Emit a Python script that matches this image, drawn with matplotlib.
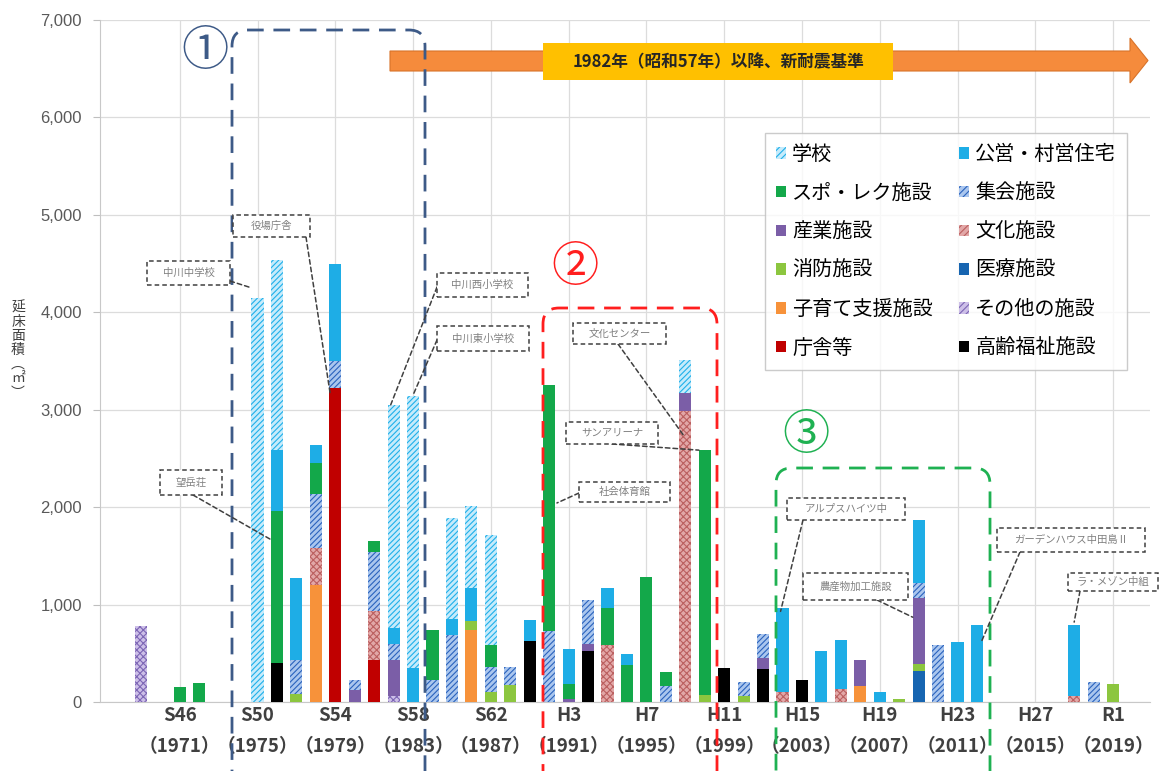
import matplotlib
matplotlib.use("Agg")
import matplotlib.pyplot as plt
from matplotlib.patches import Patch, Rectangle, FancyBboxPatch, Polygon, ConnectionPatch

plt.rcParams['font.family'] = ['Noto Sans CJK JP', 'DejaVu Sans']
plt.rcParams['hatch.linewidth'] = 0.8

years = list(range(1967, 2021))

# floor area by facility type and year of construction (m2), stacked bottom -> top
elderly = {1976: 400, 1989: 630, 1992: 520, 1999: 345, 2001: 340, 2003: 230}
office = {1979: 3220, 1981: 430}
other = {1969: 780, 1982: 60}
childcare = {1978: 1200, 1986: 740, 2006: 165}
medical = {2009: 320}
fire = {1977: 85, 1986: 90, 1987: 100, 1988: 170, 1998: 70, 2000: 65,
        2008: 35, 2009: 75, 2019: 180}
culture = {1978: 380, 1981: 500, 1993: 580, 1997: 2990, 2002: 100,
           2005: 135, 2017: 60}
industry = {1980: 120, 1982: 370, 1991: 30, 1992: 80, 1997: 185, 2001: 115,
            2006: 270, 2009: 670}
assembly = {1977: 345, 1978: 550, 1979: 280, 1980: 110, 1981: 610, 1982: 170,
            1984: 230, 1985: 690, 1987: 255, 1988: 190, 1990: 730, 1992: 445,
            1996: 160, 2000: 145, 2001: 240, 2009: 155, 2010: 590, 2018: 205}
sports = {1971: 150, 1972: 190, 1976: 1560, 1978: 320, 1981: 110, 1984: 510,
          1987: 225, 1990: 2520, 1991: 150, 1993: 385, 1994: 380, 1995: 1280,
          1996: 150, 1998: 2515}
housing = {1976: 630, 1977: 840, 1978: 190, 1979: 1000, 1982: 155, 1983: 350,
           1985: 160, 1986: 340, 1989: 210, 1991: 360, 1993: 205, 1994: 110,
           2002: 865, 2004: 520, 2005: 505, 2007: 105, 2009: 650, 2011: 617,
           2012: 790, 2017: 730}
school = {1975: 4150, 1976: 1950, 1982: 2290, 1983: 2790, 1985: 1040,
          1986: 845, 1987: 1130, 1997: 335}

# (name, data, face, hatch colour, hatch)
series = [
    ('高齢福祉施設', elderly, '#000000', None, None),
    ('庁舎等', office, '#c00000', None, None),
    ('その他の施設', other, '#cdbfe8', '#7d66b5', 'xxxxx'),
    ('子育て支援施設', childcare, '#f7923a', None, None),
    ('医療施設', medical, '#1765b1', None, None),
    ('消防施設', fire, '#8cc63f', None, None),
    ('文化施設', culture, '#e2a7a7', '#bb5f5f', 'xxxxx'),
    ('産業施設', industry, '#7b5ea7', None, None),
    ('集会施設', assembly, '#aac6ee', '#2a62bd', '//////'),
    ('スポ・レク施設', sports, '#13a84a', None, None),
    ('公営・村営住宅', housing, '#1eade6', None, None),
    ('学校', school, '#c6ebfb', '#1fb0ea', '//////'),
]

tick_years = [1971, 1975, 1979, 1983, 1987, 1991, 1995, 1999, 2003, 2007, 2011, 2015, 2019]
tick_eras = ['S46', 'S50', 'S54', 'S58', 'S62', 'H3', 'H7', 'H11', 'H15', 'H19', 'H23', 'H27', 'R1']

legend_order = ['学校', 'スポ・レク施設', '産業施設', '消防施設', '子育て支援施設', '庁舎等',
                '公営・村営住宅', '集会施設', '文化施設', '医療施設', 'その他の施設', '高齢福祉施設']

fig = plt.figure(figsize=(11.61, 7.71), dpi=100)
ax = fig.add_axes([100 / 1161, 69 / 771, 1050 / 1161, 682 / 771])

bottom = [0] * len(years)
handles = {}
for name, data, face, hcol, hatch in series:
    vals = [data.get(y, 0) for y in years]
    if hatch:
        ax.bar(years, vals, 0.62, bottom=bottom, color=face, edgecolor=hcol,
               hatch=hatch, lw=0, zorder=3)
        handles[name] = Patch(facecolor=face, edgecolor=hcol, hatch='/////', lw=0)
    else:
        ax.bar(years, vals, 0.62, bottom=bottom, color=face, lw=0, zorder=3)
        handles[name] = Patch(facecolor=face, lw=0)
    bottom = [b + v for b, v in zip(bottom, vals)]

ax.set_xlim(1966.9, 2020.9)
ax.set_ylim(0, 7000)
ax.set_yticks(range(0, 7001, 1000))
ax.set_yticklabels([f'{v:,}' for v in range(0, 7001, 1000)], fontsize=12,
                   color='#595959', family=['Liberation Sans', 'DejaVu Sans'])
ax.set_xticks(tick_years)
ax.set_xticklabels([f'{e}\n（{y}）' for e, y in zip(tick_eras, tick_years)],
                   fontsize=13.5, fontweight='bold', color='#404040', linespacing=1.8)
ax.tick_params(axis='x', length=0, pad=3)
ax.tick_params(axis='y', length=5, color='#bfbfbf', pad=8)
ax.grid(True, color='#dcdcdc', lw=0.9, zorder=0)
for s in ['top', 'right']:
    ax.spines[s].set_visible(False)
for s in ['left', 'bottom']:
    ax.spines[s].set_color('#c8c8c8')

fig.text(18 / 1161, 1 - 350 / 771, '延\n床\n面\n積\n︵\n㎡\n︶', fontsize=10,
         color='#404040', ha='center', va='center', linespacing=1.02)

leg = fig.legend([handles[n] for n in legend_order], legend_order, ncol=2,
                 loc='upper left', bbox_to_anchor=(765 / 1161, 1 - 133 / 771),
                 fontsize=14.5, frameon=True, fancybox=False, edgecolor='#bfbfbf',
                 handlelength=0.5, handleheight=0.5, handletextpad=0.3,
                 labelspacing=0.88, columnspacing=1.3, borderpad=0.55,
                 borderaxespad=0)
leg.get_frame().set_linewidth(1.0)


def px(x, y):
    # figure pixel (from top-left) -> inches from bottom-left
    return (x / 100, (771 - y) / 100)


tr = fig.dpi_scale_trans

# 1982 seismic standard arrow
arrow = Polygon([px(390, 51), px(1130, 51), px(1130, 38), px(1148, 60.5),
                 px(1130, 83), px(1130, 71), px(390, 71)], closed=True,
                transform=tr, facecolor='#f58b3c', edgecolor='#d8732a', lw=0.8)
fig.add_artist(arrow)
fig.add_artist(Rectangle(px(543, 80), 3.5, 0.37, transform=tr,
                         facecolor='#ffc000', edgecolor='none'))
fig.text(718 / 1161, 1 - 62 / 771, '1982年（昭和57年）以降、新耐震基準', fontsize=12,
         fontweight='bold', color='#262626', ha='center', va='center')

# grouped periods
periods = [('①', '#3d5a87', 205, 52, 232, 30, 425),
           ('②', '#ff1e1e', 575, 268, 543, 308, 717),
           ('③', '#1fb152', 806, 436, 776, 468, 990)]
for mark, col, tx, ty, x0, y0, x1 in periods:
    box = FancyBboxPatch(px(x0, 800), (x1 - x0) / 100, (800 - y0) / 100,
                         boxstyle='round,pad=0,rounding_size=0.16', transform=tr,
                         fill=False, edgecolor=col, lw=2.0, ls=(0, (6, 3.5)))
    fig.add_artist(box)
    fig.text(tx / 1161, 1 - ty / 771, mark, fontsize=34, color=col,
             ha='center', va='center')

# facility call-outs: text, box (px), leader start (px), leader end (data)
callouts = [
    ('役場庁舎', (233, 215, 310, 237), (306, 237), (1978.75, 3150)),
    ('中川中学校', (147, 261, 230, 285), (230, 281), (1974.7, 4250)),
    ('望岳荘', (160, 470, 222, 495), (193, 495), (1975.75, 1660)),
    ('中川西小学校', (437, 273, 528, 297), (437, 287), (1981.85, 3050)),
    ('中川東小学校', (437, 326, 529, 351), (437, 340), (1983.0, 3150)),
    ('文化センター', (573, 323, 666, 344), (618, 344), (1996.9, 2740)),
    ('サンアリーナ', (566, 422, 658, 444), (612, 444), (1997.7, 2585)),
    ('社会体育館', (579, 482, 670, 502), (579, 493), (1990.4, 2043)),
    ('アルプスハイツ中', (787, 498, 905, 520), (803, 520), (2001.9, 930)),
    ('農産物加工施設', (803, 573, 908, 600), (877, 600), (2008.7, 870)),
    ('ガーデンハウス中田島Ⅱ', (997, 528, 1145, 552), (1020, 552), (2012.2, 605)),
    ('ラ・メゾン中組', (1068, 573, 1158, 591), (1080, 591), (2017.0, 820)),
]
for label, (bx0, by0, bx1, by1), start, end in callouts:
    con = ConnectionPatch(xyA=px(*start), coordsA=tr, xyB=end, coordsB=ax.transData,
                          color='#404040', lw=1.1, ls=(0, (3, 2)), zorder=6)
    fig.add_artist(con)
    fig.add_artist(Rectangle(px(bx0, by1), (bx1 - bx0) / 100, (by1 - by0) / 100,
                             transform=tr, facecolor='white', edgecolor='#404040',
                             lw=1.1, ls=(0, (3, 2)), zorder=7))
    fig.text((bx0 + bx1) / 2 / 1161, 1 - (by0 + by1) / 2 / 771, label, fontsize=7.5,
             color='#808080', ha='center', va='center', zorder=8)

fig.savefig('out.png', dpi=100)
